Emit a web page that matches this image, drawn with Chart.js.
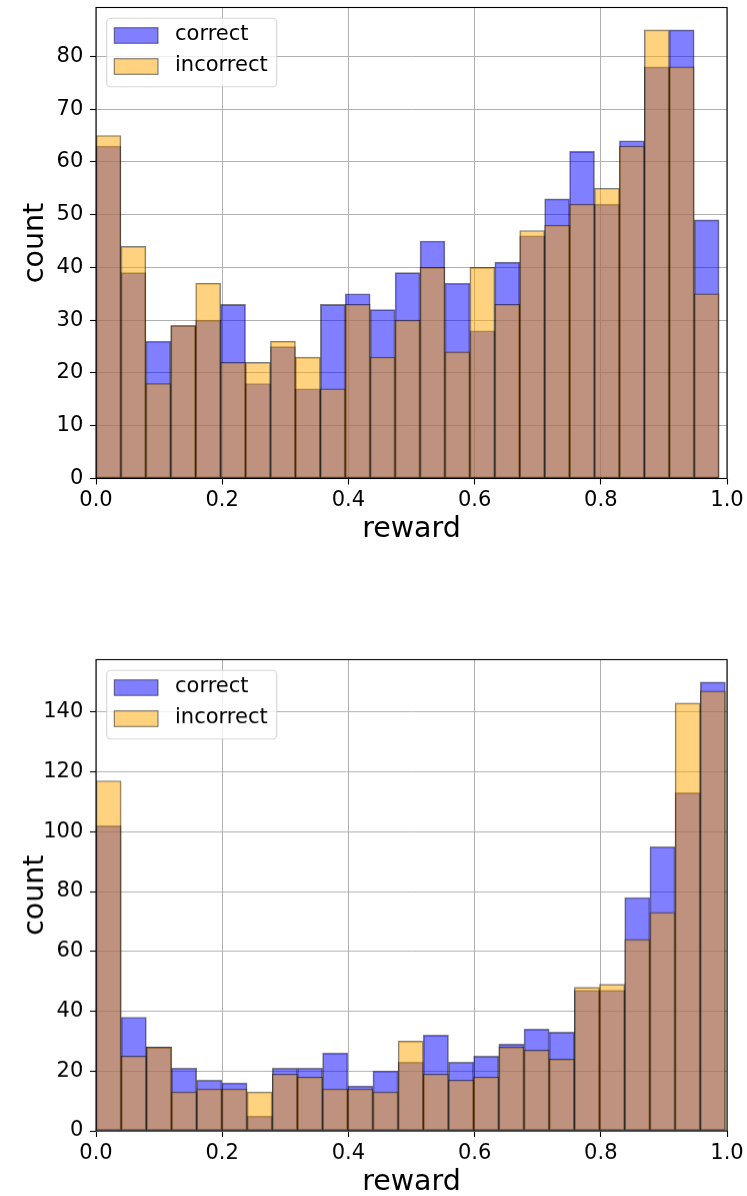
<!DOCTYPE html>
<html lang="en">
<head>
<meta charset="UTF-8">
<title>Reward histograms</title>
<script src="https://cdn.jsdelivr.net/npm/chart.js"></script>
<style>
  html, body { margin: 0; padding: 0; background: #fff; overflow: hidden; }
  .panel { position: absolute; left: 0; width: 747px; }
  #topPanel { top: 0; height: 560px; }
  #bottomPanel { top: 600px; height: 611.5px; }
</style>
</head>
<body>
<div class="panel" id="topPanel"><canvas id="topChart"></canvas></div>
<div class="panel" id="bottomPanel"><canvas id="bottomChart"></canvas></div>
<script>
const seriesLabels = ['correct', 'incorrect'];

// top histogram, 25 bins starting at 0
const topBinWidth = 0.0395;
const topCorrect   = [63, 39, 26, 29, 30, 33, 18, 25, 17, 33, 35, 32, 39, 45, 37, 28, 41, 46, 53, 62, 52, 64, 78, 85, 49];
const topIncorrect = [65, 44, 18, 29, 37, 22, 22, 26, 23, 17, 33, 23, 30, 40, 24, 40, 33, 47, 48, 52, 55, 63, 85, 78, 35];
const topYStep = 10;

// bottom histogram, 25 bins starting at 0
const bottomBinWidth = 0.0399;
const bottomCorrect   = [102, 38, 28, 21, 17, 16, 5, 21, 21, 26, 15, 20, 23, 32, 23, 25, 29, 34, 33, 47, 47, 78, 95, 113, 150];
const bottomIncorrect = [117, 25, 28, 13, 14, 14, 13, 19, 18, 14, 14, 13, 30, 19, 17, 18, 28, 27, 24, 48, 49, 64, 73, 143, 147];
const bottomYStep = 20;

const xStep = 0.2;
const xLabel = 'reward';
const yLabel = 'count';

const colors = ['rgba(0, 0, 255, 0.5)', 'rgba(255, 165, 0, 0.5)'];
const edgeColor = 'rgba(0, 0, 0, 0.5)';

Chart.defaults.font.family = '"DejaVu Sans", sans-serif';
Chart.defaults.color = '#000';

// matplotlib-like frame + legend drawn inside the plot area
const frameAndLegend = {
    id: 'frameAndLegend',
    afterDraw(chart) {
        const { ctx, chartArea: a } = chart;
        ctx.save();
        ctx.strokeStyle = '#000';
        ctx.lineWidth = 1.1;
        ctx.strokeRect(a.left, a.top, a.right - a.left, a.bottom - a.top);

        ctx.beginPath();
        ctx.roundRect(a.left + 10.7, a.top + 10.8, 170, 68.4, 4);
        ctx.fillStyle = 'rgba(255, 255, 255, 0.8)';
        ctx.fill();
        ctx.strokeStyle = 'rgba(204, 204, 204, 0.8)';
        ctx.lineWidth = 1.1;
        ctx.stroke();

        chart.data.datasets.forEach((ds, i) => {
            const cy = a.top + 28 + i * 31;
            ctx.fillStyle = ds.backgroundColor;
            ctx.fillRect(a.left + 18.3, cy - 7.8, 43.7, 15.6);
            ctx.strokeStyle = ds.borderColor;
            ctx.lineWidth = 1.1;
            ctx.strokeRect(a.left + 18.3, cy - 7.8, 43.7, 15.6);
            ctx.fillStyle = '#000';
            ctx.font = '21px "DejaVu Sans"';
            ctx.textBaseline = 'middle';
            ctx.textAlign = 'left';
            ctx.fillText(ds.label, a.left + 79, cy - 1.2);
        });
        ctx.restore();
    }
};

function binData(values, width) {
    return values.map((v, i) => ({ x: (i + 0.5) * width, y: v }));
}

function makeChart(id, correct, incorrect, binWidth, yStep, padTop) {
    const yMax = Math.max(...correct, ...incorrect) * 1.05;
    return new Chart(document.getElementById(id), {
        type: 'bar',
        data: {
            datasets: [
                { label: seriesLabels[0], data: binData(correct, binWidth), order: 1 },
                { label: seriesLabels[1], data: binData(incorrect, binWidth), order: 0 }
            ].map((ds, i) => Object.assign(ds, {
                backgroundColor: colors[i],
                borderColor: edgeColor,
                borderWidth: 1,
                borderSkipped: false,
                grouped: false,
                barPercentage: 1,
                categoryPercentage: 1
            }))
        },
        options: {
            responsive: true,
            maintainAspectRatio: false,
            animation: false,
            layout: { padding: { top: padTop, right: 20, bottom: 0, left: 0 } },
            plugins: { legend: { display: false }, tooltip: { enabled: false } },
            scales: {
                x: {
                    type: 'linear',
                    min: 0,
                    max: 1,
                    offset: false,
                    z: 1,
                    grid: { offset: false, color: '#b0b0b0', lineWidth: 1, tickColor: '#000', tickLength: 6, tickWidth: 1.1 },
                    border: { display: false },
                    ticks: {
                        stepSize: xStep,
                        padding: 3.5,
                        maxRotation: 0,
                        font: { size: 21 },
                        callback: v => Number(v).toFixed(1)
                    },
                    title: { display: true, text: xLabel, font: { size: 28.5 }, padding: { top: 0, bottom: 12.9 } },
                    afterFit: s => { s.height = 81.5; s.paddingLeft = 0; s.paddingRight = 0; }
                },
                y: {
                    min: 0,
                    max: yMax,
                    z: 1,
                    grid: { color: '#b0b0b0', lineWidth: 1, tickColor: '#000', tickLength: 6, tickWidth: 1.1 },
                    border: { display: false },
                    ticks: { stepSize: yStep, includeBounds: false, padding: 6.7, font: { size: 21 } },
                    title: { display: true, text: yLabel, font: { size: 28.5 }, padding: { top: 18.1, bottom: 0 } },
                    afterFit: s => { s.width = 96; s.paddingTop = 0; s.paddingBottom = 0; }
                }
            }
        },
        plugins: [frameAndLegend]
    });
}

makeChart('topChart', topCorrect, topIncorrect, topBinWidth, topYStep, 7.5);
makeChart('bottomChart', bottomCorrect, bottomIncorrect, bottomBinWidth, bottomYStep, 59.5);
</script>
</body>
</html>
